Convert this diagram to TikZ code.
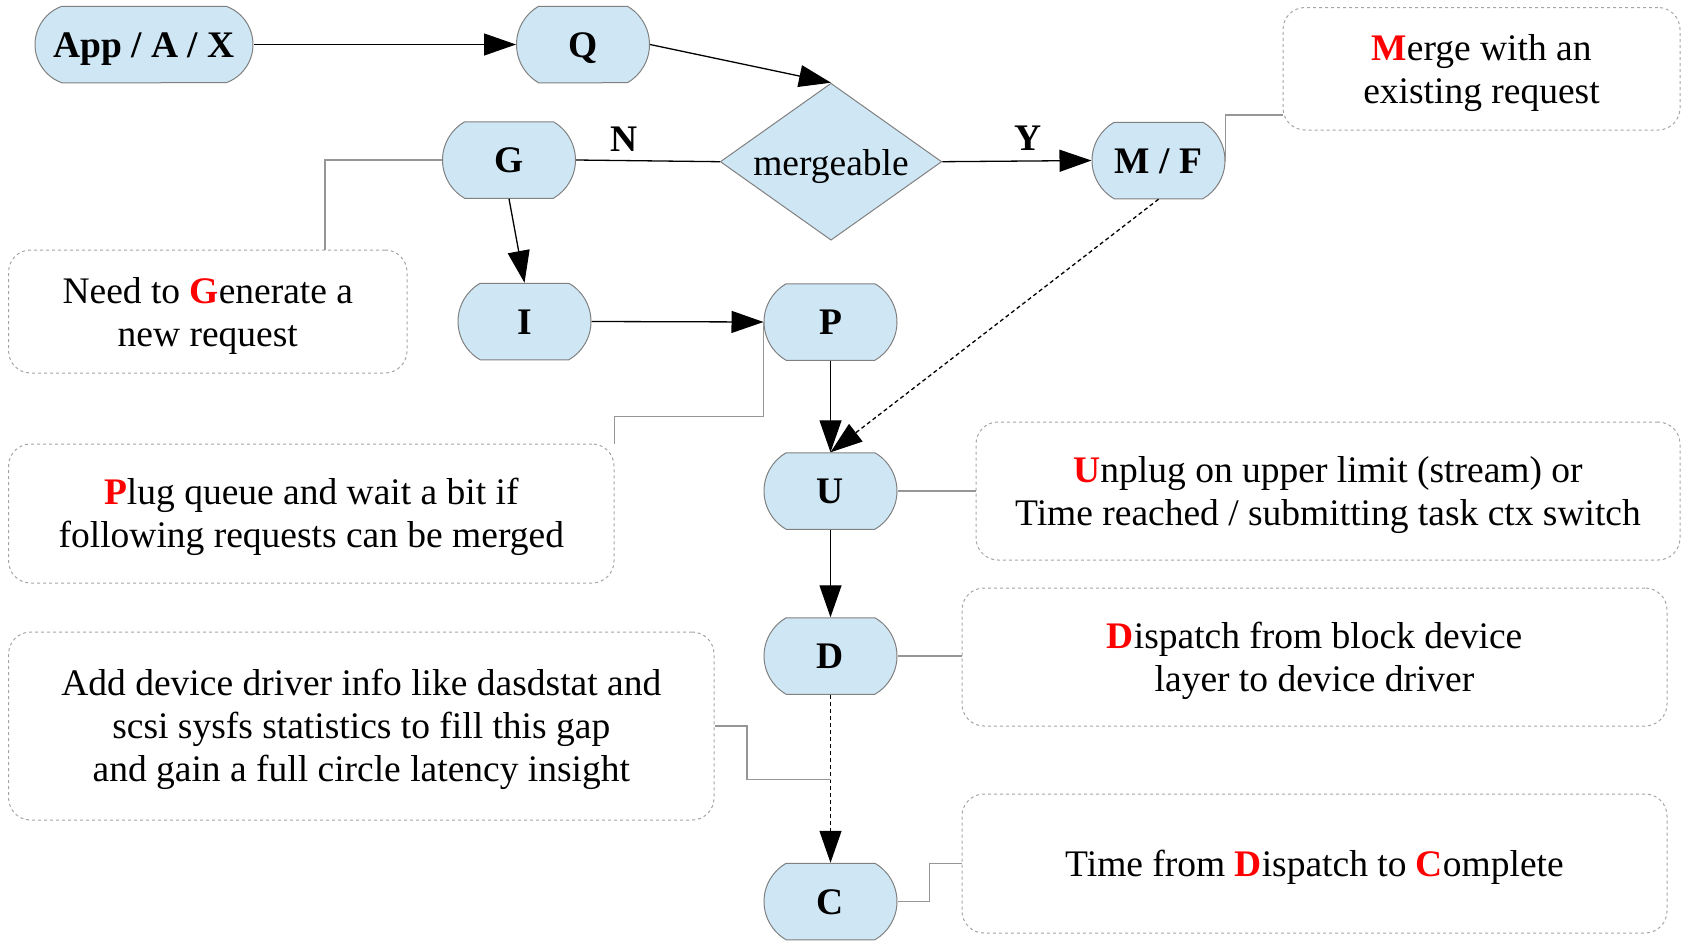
\documentclass[tikz,border=0pt]{standalone}
\usepackage{fontspec}
\setmainfont{Liberation Serif}
\usetikzlibrary{shapes.misc,shapes.geometric,arrows.meta}
\definecolor{nodefill}{RGB}{207,231,245}
\definecolor{nodeborder}{RGB}{128,128,128}
\definecolor{notegray}{RGB}{165,165,165}
\definecolor{conngray}{RGB}{150,150,150}
\tikzset{
  every node/.style={font=\fontsize{37.5}{43}\selectfont},
  blk/.style={rounded rectangle, rounded rectangle arc length=120, draw=nodeborder, line width=1pt, fill=nodefill,
    minimum width=133pt, minimum height=76.5pt, inner sep=0pt, text height=25pt, text depth=0pt,
    font=\fontsize{37.5}{43}\selectfont\bfseries},
  dec/.style={diamond, draw=nodeborder, line width=1pt, fill=nodefill, shape aspect=1.41, inner sep=0pt,
    text height=26.6pt, text depth=0pt, minimum width=221.5pt, minimum height=157pt},
  note/.style={rectangle, rounded corners=22pt, draw=notegray, line width=1pt, dash pattern=on 3pt off 3pt,
    align=center, inner sep=0pt},
  flow/.style={line width=1.3pt, -{Triangle[length=32pt,width=22pt]}},
  conn/.style={draw=conngray, line width=1.3pt},
  lbl/.style={font=\fontsize{37.5}{43}\selectfont\bfseries},
}
\newcommand{\rl}[1]{\textcolor{red}{\textbf{#1}}}
\newcommand{\fs}{\rule{0pt}{34pt}}
\begin{document}
\begin{tikzpicture}[x=1pt,y=-1pt]
\useasboundingbox (0,0) rectangle (1681,940);
% main nodes
\node[blk, minimum width=218pt, rounded rectangle arc length=140] (app) at (144,44.5) {App / A / X};
\node[blk] (q) at (583,44.5) {Q};
\node[dec] (m) at (831,161.7) {mergeable};
\node[blk] (g) at (509,160) {G};
\node[blk] (mf) at (1158.5,160.5) {M / F};
\node[blk] (i) at (524.5,321.5) {I};
\node[blk] (p) at (830.5,322) {P};
\node[blk] (u) at (830.5,491) {U};
\node[blk] (d) at (830.5,656) {D};
\node[blk] (c) at (830.5,901.5) {C};
% labels
\node[lbl] (nl) at (624,139) {N};
\node[lbl] (yl) at (1028,138) {Y};
% notes
\node[note, minimum width=397pt, minimum height=122.5pt] (nmerge) at (1481.5,68.75) {\fs\rl{M}erge with an\\existing request};
\node[note, minimum width=398.4pt, minimum height=123pt] (nneed) at (207.8,311.5) {\fs Need to \rl{G}enerate a\\new request};
\node[note, minimum width=605.4pt, minimum height=139pt] (nplug) at (311.3,513.5) {\fs\rl{P}lug queue and wait a bit if\\following requests can be merged};
\node[note, minimum width=705.4pt, minimum height=188pt] (nadd) at (361.3,726) {\fs Add device driver info like dasdstat and\\scsi sysfs statistics to fill this gap\\and gain a full circle latency insight};
\node[note, minimum width=704pt, minimum height=138pt] (nunplug) at (1328,491) {\fs\rl{U}nplug on upper limit (stream) or\\Time reached / submitting task ctx switch};
\node[note, minimum width=705pt, minimum height=138pt] (ndisp) at (1314.5,657) {\fs\rl{D}ispatch from block device\\layer to device driver};
\node[note, minimum width=705pt, minimum height=139pt] (ntime) at (1314.5,863.5) {\fs Time from \rl{D}ispatch to \rl{C}omplete};
% bend coordinates
\coordinate (gk) at (325,250);
\coordinate (pk1) at (763.5,416.7);
\coordinate (pk2) at (614.5,444);
\coordinate (mk) at (1283,115);
\coordinate (ck) at (929.6,863.5);
\coordinate (ak) at (747,779.4);
\coordinate (dck) at (830.5,779.4);
% flow arrows
\draw[flow] (app.east) -- (q.west);
\draw[flow] (q.east) -- (m.north);
\draw[line width=1.3pt] (g.east) -- (m.west);
\draw[flow] (m.east) -- (mf.west);
\draw[flow] (g.south) -- (i.north);
\draw[flow] (i.east) -- (p.west);
\draw[flow] (p.south) -- (u.north);
\draw[flow, dash pattern=on 4pt off 3pt] (mf.south) -- (u.north);
\draw[flow] (u.south) -- (d.north);
\draw[flow, dash pattern=on 4pt off 3pt] (d.south) -- (c.north);
% note connectors
\draw[conn] (g.west) -| (gk);
\draw[conn] (p.west) -- (pk1) -| (pk2);
\draw[conn] (mf.east) |- (mk);
\draw[conn] (u.east) -- (nunplug.west);
\draw[conn] (d.east) -- (d.east -| ndisp.west);
\draw[conn] (c.east) -| (ck) -- (ntime.west);
\draw[conn] (nadd.east) -| (ak) -- (dck);
\end{tikzpicture}
\end{document}
